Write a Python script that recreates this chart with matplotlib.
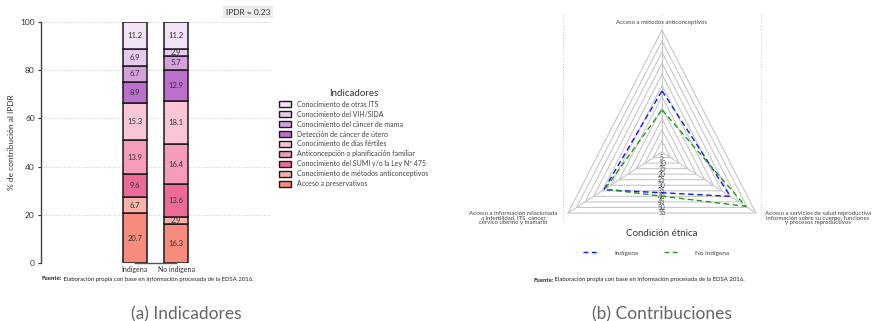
import numpy as np
import matplotlib
matplotlib.use('Agg')
import matplotlib.pyplot as plt
from matplotlib.patches import Patch
from matplotlib.lines import Line2D

plt.rcParams['font.family'] = ['Lato', 'DejaVu Sans']

# --- (a) contribution of each indicator to the IPDR ---
groups = ['Indígena', 'No indígena']
indicators = [
    'Acceso a preservativos',
    'Conocimiento de métodos anticonceptivos',
    'Conocimiento del SUMI y/o la Ley Nº 475',
    'Anticoncepción o planificación familiar',
    'Conocimiento de días fértiles',
    'Detección de cáncer de útero',
    'Conocimiento del cáncer de mama',
    'Conocimiento del VIH/SIDA',
    'Conocimiento de otras ITS',
]
indigena = [20.7, 6.7, 9.6, 13.9, 15.3, 8.9, 6.7, 6.9, 11.2]
no_indigena = [16.3, 2.9, 13.6, 16.4, 18.1, 12.9, 5.7, 2.9, 11.2]
colors = ['#F68B7E', '#F9B1AC', '#EE6B99', '#F49CB9', '#FAC5D6',
          '#BC70CB', '#D7A0DD', '#E7C8EE', '#F3E3F6']
ipdr = 0.23

# --- (b) contributions by ethnic condition (radar) ---
radar_axes = [
    'Acceso a métodos anticonceptivos',
    'Acceso a servicios de salud reproductiva\ninformación sobre su cuerpo, funciones\ny procesos reproductivos',
    'Acceso a información relacionada\na infertilidad, ITS, cáncer\ncérvico uterino y mamario',
]
radar_indigena = [27.6, 40.0, 34.0]
radar_no_indigena = [19.0, 49.0, 33.5]
grid_levels = [5, 10, 15, 20, 25, 30, 35, 40, 45, 50, 55]

W, H = 875, 321
fig = plt.figure(figsize=(W / 100, H / 100), dpi=100)


def box(x0, y0, x1, y1):
    # pixel box (top-left origin) -> figure fractions
    return [x0 / W, 1 - y1 / H, (x1 - x0) / W, (y1 - y0) / H]


txt = '#333333'

# ---------------- left panel ----------------
ax = fig.add_axes(box(41, 22, 270, 263))
xpos = np.arange(len(groups))
data = np.array([indigena, no_indigena])
bottom = np.zeros(len(groups))
for i, name in enumerate(indicators):
    vals = data[:, i]
    ax.bar(xpos, vals, width=0.585, bottom=bottom, color=colors[i],
           edgecolor='#1a1a1a', linewidth=1.1, label=name, zorder=3)
    for xp, v, b in zip(xpos, vals, bottom):
        ax.text(xp, b + v / 2, f'{v:.1f}', ha='center', va='center',
                fontsize=5.5, color=txt, zorder=4)
    bottom += vals

ax.set_xlim(-2.29, 3.29)
ax.set_ylim(0, 100)
ax.set_yticks([0, 20, 40, 60, 80, 100])
for yv in [0, 20, 40, 60, 80, 100]:
    ax.axhline(yv, color='#BBBBBB', lw=0.6, ls=(0, (1, 2)), zorder=0)
ax.plot([xpos[0], xpos[-1]], [0, 0], color='#555555', lw=1.0, zorder=2,
        clip_on=False)
ax.set_xticks(xpos)
ax.set_xticklabels(groups, fontsize=5, color=txt)
ax.tick_params(axis='x', length=0, pad=2)
ax.tick_params(axis='y', labelsize=6, colors=txt, length=2.5, width=0.8, pad=2)
for s in ['top', 'right', 'bottom']:
    ax.spines[s].set_visible(False)
ax.spines['left'].set_color('#444444')
ax.spines['left'].set_linewidth(1.0)
ax.set_ylabel('% de contribución al IPDR', fontsize=6, color=txt, labelpad=4)

ax.text(1.0, 1.025, f'IPDR = {ipdr}', transform=ax.transAxes, ha='right',
        va='bottom', fontsize=6, color=txt,
        bbox=dict(facecolor='#EBEBEB', edgecolor='none', pad=1.8))

handles = [Patch(facecolor=colors[i], edgecolor='#1a1a1a', linewidth=1.0,
                 label=indicators[i]) for i in range(len(indicators))][::-1]
leg = fig.legend(handles=handles, loc='upper left',
                 bbox_to_anchor=(274 / W, 1 - 84 / H), frameon=False,
                 fontsize=5, title='Indicadores', title_fontsize=7,
                 handlelength=1.7, handleheight=0.95, labelspacing=0.42,
                 handletextpad=0.9, borderpad=0.2)
for t in leg.get_texts():
    t.set_color('#444444')
leg.get_title().set_color(txt)


def caption(x, y):
    t = fig.text(x / W, 1 - y / H, 'Fuente:', fontsize=4.3,
                 fontweight='bold', color='#222222', va='center')
    ax.annotate(' Elaboración propia con base en información procesada de la EDSA 2016.',
                xy=(1, 0.5), xycoords=t, va='center', ha='left',
                fontsize=4.3, color='#222222', annotation_clip=False)


caption(42, 279)

# ---------------- right panel (radar) ----------------
cx, cy = 662, 152
kx, ky = 1.973, 2.218
rx0, rx1, ry0, ry1 = 548, 776, 13, 222
rax = fig.add_axes(box(rx0, ry0, rx1, ry1))
rax.set_xlim((rx0 - cx) / kx, (rx1 - cx) / kx)
rax.set_ylim(-(ry1 - cy) / ky, (cy - ry0) / ky)
rax.axis('off')

angles = np.deg2rad([90, -30, 210])
ux, uy = np.cos(angles), np.sin(angles)


def poly(vals):
    vals = np.asarray(vals, dtype=float)
    xs = vals * ux
    ys = vals * uy
    return np.append(xs, xs[0]), np.append(ys, ys[0])


for xv in [-50, 0, 50]:
    rax.axvline(xv, color='#C4C4C4', lw=0.7, ls=(0, (1, 2)), zorder=0)

rmax = grid_levels[-1]
for lv in grid_levels:
    gx, gy = poly([lv] * 3)
    rax.plot(gx, gy, color='#C8C8C8', lw=0.8, zorder=1)
for a in range(3):
    rax.plot([0, rmax * ux[a]], [0, rmax * uy[a]], color='#C8C8C8', lw=0.8,
             zorder=1)
for lv in grid_levels:
    rax.text(0, -lv / 2, str(lv), ha='center', va='center', fontsize=4.8,
             color='#555555', zorder=2)

dash = (0, (4, 2.5))
bx, by = poly(radar_indigena)
rax.plot(bx, by, color='#1414FF', lw=1.0, ls=dash, zorder=3)
gx, gy = poly(radar_no_indigena)
rax.plot(gx, gy, color='#1E9A1E', lw=1.0, ls=dash, zorder=3)

rax.text(0, rmax + 3.6, radar_axes[0], ha='center', va='center',
         fontsize=4.3, color='#444444')
rax.text(79, -26.5, radar_axes[1], ha='center', va='top', fontsize=4.3,
         color='#444444', linespacing=0.95, clip_on=False)
rax.text(-75.5, -26.5, radar_axes[2], ha='center', va='top', fontsize=4.3,
         color='#444444', linespacing=0.95, clip_on=False)

fig.text(662 / W, 1 - 233 / H, 'Condición étnica', ha='center', va='center',
         fontsize=7, color=txt)
lh = [Line2D([], [], color='#1414FF', lw=1.0, ls=(0, (3.5, 2.5))),
      Line2D([], [], color='#1E9A1E', lw=1.0, ls=(0, (3.5, 2.5)))]
leg2 = fig.legend(lh, ['Indígena', 'No indígena'], loc='center',
                  bbox_to_anchor=(656 / W, 1 - 253 / H), ncol=2,
                  frameon=False, fontsize=4.6, handlelength=2.35,
                  handletextpad=2.5, columnspacing=4.1)
for t in leg2.get_texts():
    t.set_color('#444444')

caption(533, 280)

# sub-figure captions
fig.text(186 / W, 1 - 314 / H, '(a) Indicadores', ha='center', va='center',
         fontsize=12.5, color='#666666', fontweight='normal')
fig.text(662 / W, 1 - 314 / H, '(b) Contribuciones', ha='center',
         va='center', fontsize=12.5, color='#666666', fontweight='normal')

fig.savefig('out.png', dpi=100)
